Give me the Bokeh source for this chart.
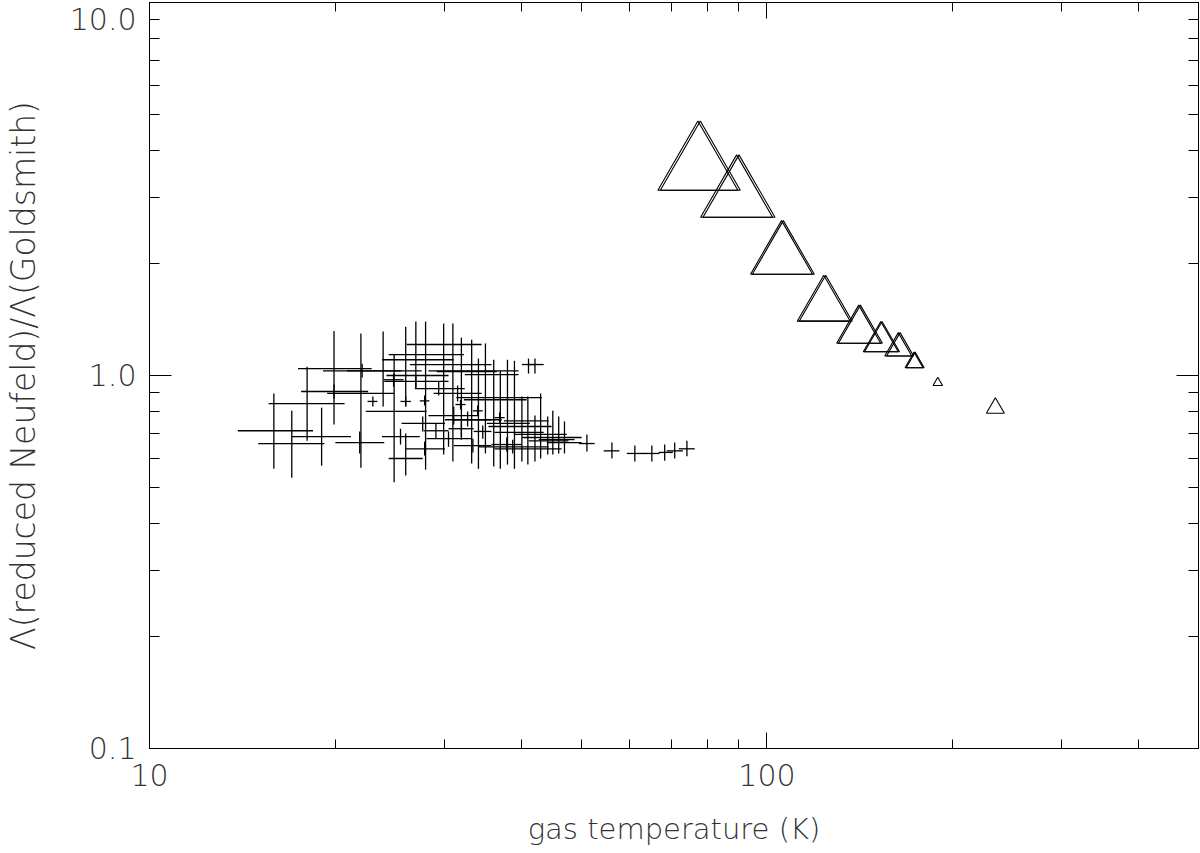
from bokeh.plotting import figure
from bokeh.models import (FixedTicker, PrintfTickFormatter, LogAxis,
                          CustomJSTickFormatter, Range1d, ColumnDataSource)
from bokeh.embed import file_html
from bokeh.resources import INLINE

# ---------------- data ----------------
# crosses: gas temperature (K) and ratio, with error-bar extents
cross_t = [15.9, 17.0, 19.0, 18.0, 19.9, 22.0, 23.9, 24.9, 21.9, 23.0,
           26.0, 19.9, 22.1, 29.95, 28.0, 27.0, 31.0, 33.25, 32.0, 35.0,
           26.0, 24.85, 27.0, 29.4, 31.55, 37.0, 36.1, 26.0, 27.9, 31.9,
           34.0, 36.9, 31.1, 34.1, 41.0, 27.7, 38.0, 40.1, 32.0, 29.1,
           34.65, 39.0, 43.0, 25.5, 45.0, 30.5, 46.0, 44.15, 47.0, 37.9,
           33.4, 38.75, 42.1, 27.9, 32.75,
           51.1, 56.1, 61.1, 65.1, 68.3, 70.9, 74.2, 41.1, 42.1]
cross_t_lo = [13.9, 15.0, 17.0, 15.6, 17.4, 19.4, 20.9, 22.4, 20.0, 22.55,
              24.4, 17.6, 19.1, 26.1, 24.4, 23.8, 26.4, 28.3, 29.2, 32.4,
              24.2, 23.95, 24.0, 26.9, 28.85, 31.4, 32.3, 25.5, 27.4, 31.3,
              33.4, 36.2, 28.3, 31.1, 37.5, 25.6, 35.2, 35.4, 30.5, 27.8,
              33.5, 36.2, 39.0, 23.8, 40.1, 28.1, 42.7, 41.1, 44.0, 35.8,
              31.1, 34.1, 36.2, 26.0, 30.1,
              49.6, 54.4, 59.3, 63.2, 66.8, 68.8, 72.0, 40.1, 41.1]
cross_t_hi = [18.4, 19.2, 21.2, 20.7, 22.9, 24.9, 27.6, 28.1, 24.0, 23.4,
              27.7, 22.6, 25.6, 34.5, 32.3, 31.1, 35.8, 39.6, 36.5, 39.6,
              30.5, 25.8, 30.5, 32.4, 34.5, 43.2, 40.8, 26.5, 28.4, 32.5,
              34.65, 37.6, 34.1, 37.2, 44.3, 30.1, 41.3, 44.8, 33.5, 30.5,
              35.8, 43.5, 47.4, 27.4, 50.1, 33.25, 48.8, 47.7, 50.1, 40.1,
              35.8, 44.3, 46.5, 30.1, 35.8,
              52.6, 57.7, 63.4, 67.0, 70.4, 73.1, 76.4, 42.2, 43.5]
cross_ratio = [0.711, 0.657, 0.686, 0.841, 1.043, 0.895, 1.029, 0.801, 0.661, 0.852,
               0.599, 0.906, 1.029, 1.211, 1.138, 1.102, 1.070, 1.029, 1.025, 1.006,
               1.000, 0.974, 0.964, 0.922, 0.895, 0.872, 0.861, 0.852, 0.855, 0.836,
               0.804, 0.771, 0.781, 0.761, 0.756, 0.744, 0.744, 0.730, 0.720, 0.711,
               0.708, 0.704, 0.695, 0.686, 0.682, 0.677, 0.673, 0.668, 0.661, 0.653,
               0.649, 0.644, 0.636, 0.636, 0.761,
               0.657, 0.628, 0.618, 0.618, 0.622, 0.628, 0.636, 1.070, 1.070]
cross_ratio_lo = [0.562, 0.532, 0.573, 0.668, 0.739, 0.566, 0.826, 0.517, 0.618, 0.826,
                  0.539, 0.867, 0.987, 0.614, 0.559, 0.922, 0.588, 0.581, 0.673, 0.618,
                  0.826, 0.934, 0.928, 0.884, 0.852, 0.562, 0.570, 0.826, 0.831, 0.810,
                  0.781, 0.748, 0.739, 0.562, 0.577, 0.708, 0.577, 0.588, 0.686, 0.677,
                  0.677, 0.562, 0.599, 0.653, 0.614, 0.644, 0.618, 0.614, 0.618, 0.626,
                  0.622, 0.618, 0.588, 0.610, 0.730,
                  0.626, 0.599, 0.588, 0.588, 0.591, 0.599, 0.607, 1.012, 1.012]
cross_ratio_hi = [0.895, 0.804, 0.820, 1.056, 1.317, 1.296, 1.312, 1.138, 0.708, 0.878,
                  0.699, 0.946, 1.076, 1.378, 1.395, 1.395, 1.378, 1.247, 1.263, 1.219,
                  1.352, 1.012, 1.000, 0.964, 0.940, 1.029, 1.102, 0.878, 0.884, 0.861,
                  0.831, 0.796, 0.826, 1.110, 0.878, 0.776, 1.102, 0.878, 0.753, 0.744,
                  0.734, 1.095, 0.895, 0.720, 0.804, 0.708, 0.776, 0.776, 0.753, 0.682,
                  0.677, 0.673, 0.781, 0.665, 0.801,
                  0.695, 0.661, 0.649, 0.649, 0.653, 0.661, 0.668, 1.110, 1.110]

# triangles: two slightly offset outlines for the first eight
tri_t = [77.3, 89.3, 105.6, 123.6, 140.8, 152.9, 163.2, 173.1, 189.1, 234.4]
tri_t_second = [78.0, 90.1, 106.3, 124.5, 141.7, 153.6, 164.3, 173.8]
tri_ratio = [3.62, 3.02, 2.086, 1.537, 1.320, 1.2325, 1.1836, 1.0836, 0.956, 0.818]
tri_marker_px = [80, 72, 62, 53, 44, 35, 27, 18, 9.5, 18]

x_major = [10, 100]
x_minor = [20, 30, 40, 50, 60, 70, 80, 90, 200, 300, 400, 500]
y_major = [0.1, 1, 10]
y_minor = [0.2, 0.3, 0.4, 0.5, 0.6, 0.7, 0.8, 0.9, 2, 3, 4, 5, 6, 7, 8, 9]

FONT = "DejaVu Sans Light"
TXT = "#333333"

p = figure(width=1200, height=853, x_axis_type="log", y_axis_type="log",
           x_range=Range1d(10, 500), y_range=Range1d(0.1, 10),
           output_backend="svg", toolbar_location=None,
           min_border_left=148, min_border_right=2,
           min_border_top=2, min_border_bottom=105)
p.grid.visible = False
p.outline_line_color = "black"
p.outline_line_width = 1
p.background_fill_color = "white"
p.border_fill_color = "white"


def style(ax, ticks, minor, major_len, minor_len):
    ax.ticker = FixedTicker(ticks=ticks, minor_ticks=minor)
    ax.major_tick_in = major_len
    ax.major_tick_out = 0
    ax.minor_tick_in = minor_len
    ax.minor_tick_out = 0
    ax.axis_line_color = "black"
    ax.major_tick_line_color = "black"
    ax.minor_tick_line_color = "black"
    ax.major_label_text_font = FONT
    ax.major_label_text_font_size = "30px"
    ax.major_label_text_color = TXT
    ax.axis_label_text_font = FONT
    ax.axis_label_text_font_size = "29px"
    ax.axis_label_text_font_style = "normal"
    ax.axis_label_text_color = TXT


xa = p.xaxis[0]
style(xa, x_major, x_minor, 16, 9)
xa.formatter = PrintfTickFormatter(format="%d")
xa.axis_label = "gas temperature (K)"
xa.major_label_standoff = 15
xa.axis_label_standoff = 23

ya = p.yaxis[0]
style(ya, y_major, y_minor, 22, 10)
ya.formatter = PrintfTickFormatter(format="%.1f")
ya.major_label_overrides = {10: "\n10.0"}
ya.major_label_text_line_height = 0.05
ya.axis_label = "Λ(reduced Neufeld)/Λ(Goldsmith)"
ya.axis_label_text_font_size = "33px"
ya.major_label_standoff = 13
ya.axis_label_standoff = 24

for side, maj, mnr, mlen, nlen in (("above", x_major, x_minor, 16, 9),
                                   ("right", y_major, y_minor, 22, 10)):
    ax = LogAxis()
    style(ax, maj, mnr, mlen, nlen)
    ax.formatter = CustomJSTickFormatter(code="return ''")
    ax.major_label_text_font_size = "0px"
    ax.major_label_standoff = 0
    p.add_layout(ax, side)

src = ColumnDataSource(dict(t=cross_t, tlo=cross_t_lo, thi=cross_t_hi,
                            r=cross_ratio, rlo=cross_ratio_lo, rhi=cross_ratio_hi))
p.segment(x0="tlo", x1="thi", y0="r", y1="r", source=src,
          line_color="black", line_width=1.3)
p.segment(x0="t", x1="t", y0="rlo", y1="rhi", source=src,
          line_color="black", line_width=1.3)

p.scatter(tri_t, tri_ratio, size=tri_marker_px, marker="triangle",
          fill_color=None, line_color="black", line_width=1.1)
p.scatter(tri_t_second, tri_ratio[:8], size=tri_marker_px[:8], marker="triangle",
          fill_color=None, line_color="black", line_width=1.1)

open("out.html", "w").write(file_html(p, INLINE))
